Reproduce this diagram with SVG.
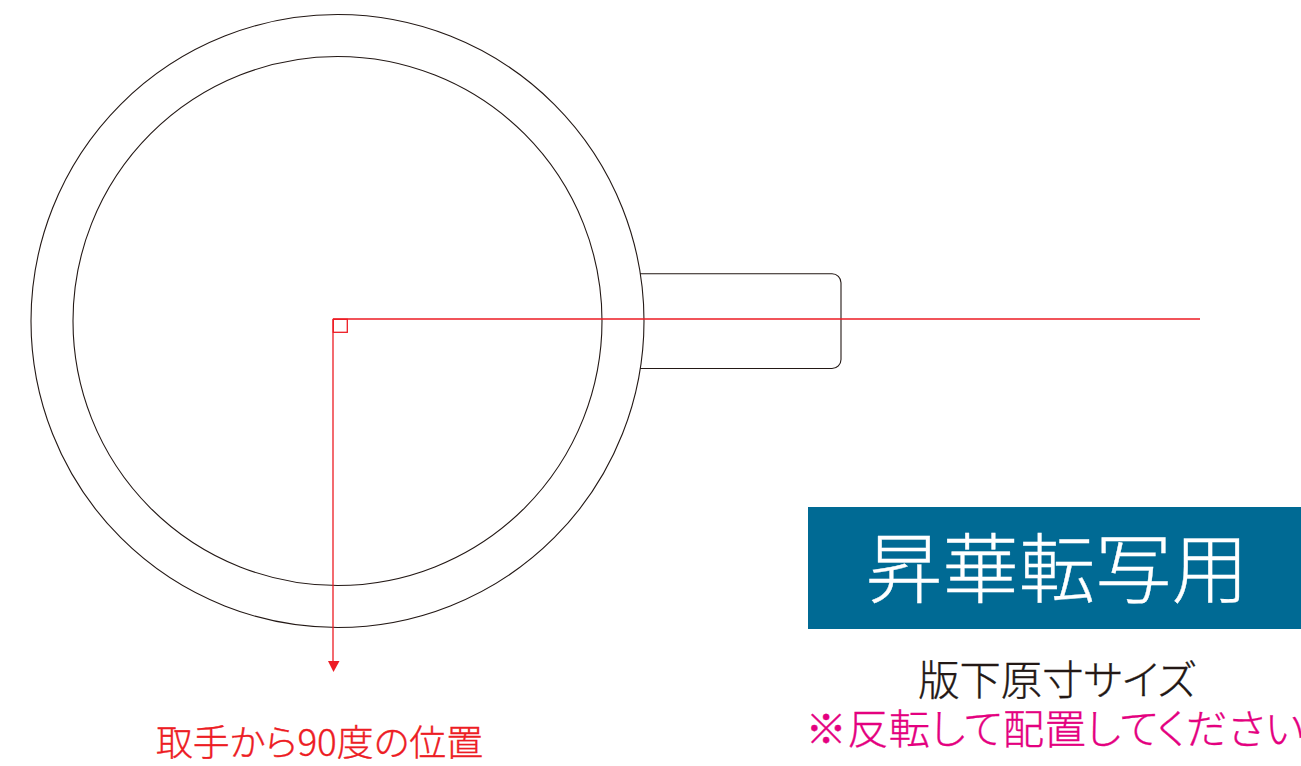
<svg xmlns="http://www.w3.org/2000/svg" width="1301" height="766" viewBox="0 0 1301 766">
<defs><style>
.o{fill:none;stroke:#231815;stroke-width:1.100}
.r{fill:none;stroke:#ed1c24;stroke-width:1.300}
text{font-family:"Noto Sans CJK JP","Noto Sans",sans-serif;font-weight:300;stroke-width:0.350}
.p{font-feature-settings:'palt'}
</style></defs>
<rect width="1301" height="766" fill="#fff"/>
<g id="mug">
<circle class="o" cx="337.500" cy="321" r="306.500"/>
<circle class="o" cx="337.500" cy="321" r="264.500"/>
<path class="o" d="M640 273.800H832a9 9 0 0 1 9 9V359.500a9 9 0 0 1 -9 9H640"/>
</g>
<g id="connectors">
<path class="r" d="M333 319H1200M333 319V664"/>
<rect class="r" x="333.300" y="319.300" width="14" height="13"/>
<polygon points="328,661 339.500,661 333.500,672" fill="#ed1c24"/>
</g>
<g id="label-angle"><text class="p" x="319.500" y="756" font-size="36.900" fill="#ed1c24" stroke="#ed1c24" text-anchor="middle">取手から90度の位置</text></g>
<g id="badge">
<rect x="808" y="507" width="493" height="122" fill="#006a94"/>
<text x="1057" y="597" font-size="76.500" fill="#fff" stroke="#fff" text-anchor="middle">昇華転写用</text>
</g>
<g id="note">
<text class="p" x="1057" y="695" font-size="41.300" fill="#231815" stroke="#231815" text-anchor="middle">版下原寸サイズ</text>
<text class="p" x="805.500" y="744" font-size="41.300" letter-spacing="0.350" fill="#e4007f" stroke="#e4007f">※反転して配置してください</text>
</g>
</svg>
